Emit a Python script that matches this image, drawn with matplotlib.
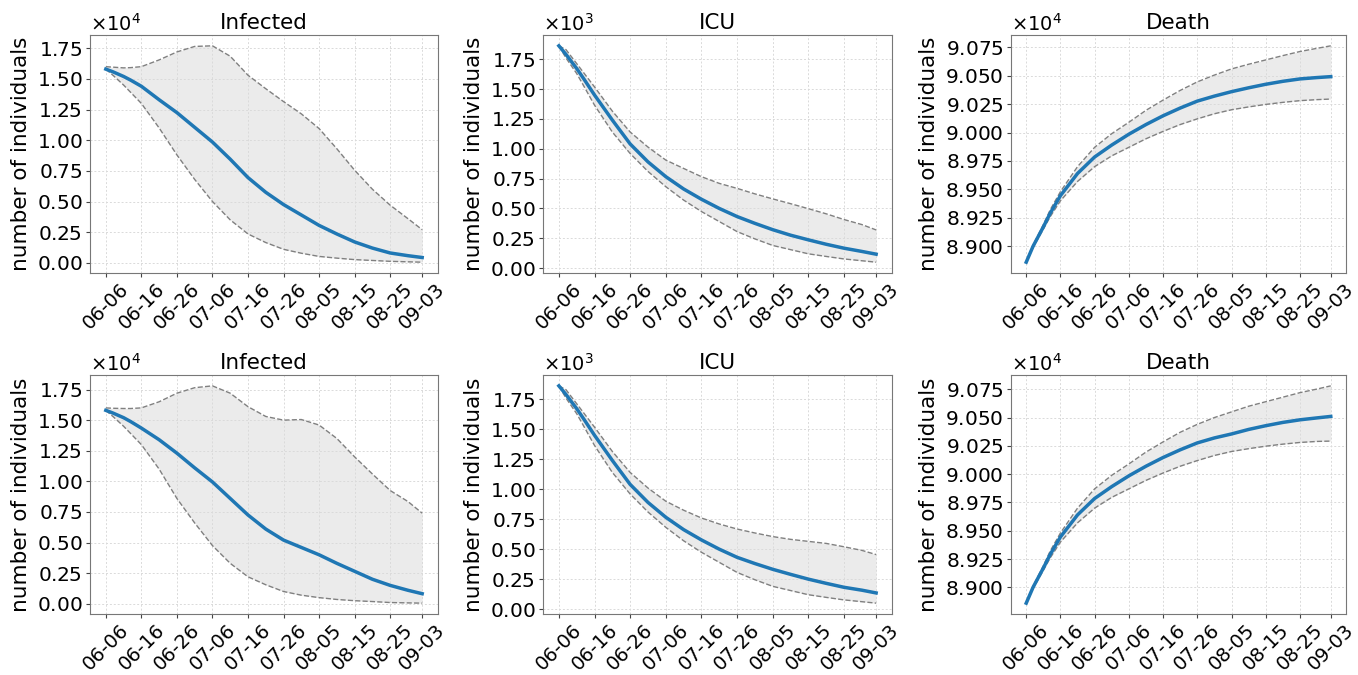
import numpy as np
import matplotlib
matplotlib.use("Agg")
import matplotlib.pyplot as plt
from matplotlib.ticker import MultipleLocator

days = [0, 2, 5, 7, 10, 15, 20, 25, 30, 35, 40, 45, 50, 55, 60, 65, 70, 75, 80, 85, 89]
tick_days = [0, 10, 20, 30, 40, 50, 60, 70, 80, 89]
tick_labels = ["06-06", "06-16", "06-26", "07-06", "07-16", "07-26",
               "08-05", "08-15", "08-25", "09-03"]
titles = ["Infected", "ICU", "Death"]
tick_steps = [2500, 250, 250]

# Row 1
inf1_mean = [15800, 15580, 15200, 14900, 14400, 13300, 12250, 11050, 9850, 8450, 6950, 5750, 4750, 3900, 3050, 2350, 1700, 1200, 800, 580, 430]
inf1_up = [16000, 15960, 15900, 15920, 16000, 16550, 17200, 17650, 17700, 16850, 15300, 14200, 13150, 12150, 10950, 9300, 7550, 6000, 4700, 3600, 2700]
inf1_lo = [15800, 15300, 14500, 13900, 13000, 11000, 8800, 6800, 5000, 3500, 2350, 1650, 1100, 780, 520, 380, 260, 190, 120, 80, 50]
icu1_mean = [1862, 1790, 1672, 1585, 1450, 1240, 1040, 890, 766, 663, 577, 500, 432, 375, 322, 276, 237, 200, 167, 140, 117]
icu1_up = [1862, 1830, 1713, 1635, 1518, 1315, 1140, 1014, 905, 835, 766, 710, 668, 622, 580, 540, 498, 455, 407, 365, 320]
icu1_lo = [1862, 1760, 1630, 1525, 1365, 1140, 960, 810, 682, 570, 474, 390, 306, 245, 190, 155, 120, 98, 77, 62, 50]
dth1_mean = [88860, 89000, 89170, 89290, 89445, 89640, 89785, 89890, 89985, 90070, 90147, 90215, 90276, 90320, 90359, 90393, 90424, 90450, 90471, 90483, 90491]
dth1_up = [88860, 89010, 89190, 89320, 89480, 89700, 89870, 89990, 90090, 90195, 90285, 90370, 90445, 90505, 90559, 90600, 90638, 90676, 90712, 90740, 90762]
dth1_lo = [88860, 88990, 89150, 89260, 89400, 89570, 89700, 89795, 89870, 89945, 90010, 90070, 90120, 90165, 90200, 90225, 90247, 90265, 90280, 90289, 90294]

# Row 2
inf2_mean = [15800, 15580, 15200, 14880, 14350, 13400, 12300, 11100, 9950, 8600, 7250, 6100, 5200, 4600, 4000, 3300, 2650, 2000, 1500, 1100, 820]
inf2_up = [16000, 15970, 15950, 15950, 16000, 16500, 17200, 17650, 17800, 17200, 16100, 15300, 15000, 15050, 14600, 13500, 12000, 10600, 9250, 8350, 7400]
inf2_lo = [15800, 15300, 14500, 13900, 13000, 11000, 8600, 6600, 4750, 3300, 2200, 1550, 1000, 700, 500, 350, 250, 180, 100, 70, 50]
icu2_mean = [1862, 1790, 1672, 1585, 1450, 1240, 1040, 890, 766, 663, 577, 500, 432, 380, 332, 290, 250, 215, 182, 158, 135]
icu2_up = [1862, 1830, 1713, 1635, 1518, 1315, 1140, 1010, 900, 825, 760, 710, 668, 635, 605, 582, 565, 548, 520, 490, 455]
icu2_lo = [1862, 1760, 1630, 1525, 1365, 1140, 960, 810, 682, 570, 474, 390, 306, 245, 190, 155, 120, 98, 77, 62, 50]
dth2_mean = [88860, 89000, 89170, 89290, 89445, 89640, 89785, 89890, 89985, 90070, 90147, 90215, 90276, 90320, 90355, 90395, 90428, 90457, 90480, 90497, 90510]
dth2_up = [88860, 89010, 89190, 89320, 89480, 89700, 89870, 89990, 90090, 90195, 90285, 90370, 90440, 90500, 90550, 90600, 90640, 90680, 90720, 90752, 90780]
dth2_lo = [88860, 88990, 89150, 89260, 89400, 89570, 89700, 89795, 89870, 89945, 90010, 90070, 90120, 90165, 90200, 90225, 90247, 90265, 90280, 90289, 90292]

rows = [
    [(inf1_mean, inf1_lo, inf1_up), (icu1_mean, icu1_lo, icu1_up), (dth1_mean, dth1_lo, dth1_up)],
    [(inf2_mean, inf2_lo, inf2_up), (icu2_mean, icu2_lo, icu2_up), (dth2_mean, dth2_lo, dth2_up)],
]

W, H = 1358, 675
plt.rcParams['font.family'] = ['DejaVu Sans']
fig = plt.figure(figsize=(W / 100, H / 100), dpi=100)

xs_px = [(90, 348), (543, 349), (1011, 335)]
ys_px = [(35, 273), (375, 614)]

FS = 14
for r, row in enumerate(rows):
    top, bot = ys_px[r]
    for c, (m, lo, up) in enumerate(row):
        x0, w = xs_px[c]
        ax = fig.add_axes([x0 / W, (H - bot) / H, w / W, (bot - top) / H])
        ax.fill_between(days, lo, up, color='#ebebeb', zorder=1, linewidth=0)
        ax.plot(days, up, color='#808080', ls='--', lw=1.0, zorder=2)
        ax.plot(days, lo, color='#808080', ls='--', lw=1.0, zorder=2)
        ax.plot(days, m, color='#1f77b4', lw=2.5, zorder=3)
        ax.grid(True, color='#dadada', ls=(0, (2, 2)), lw=0.7, zorder=1.5)
        ax.set_xticks(tick_days)
        ax.set_xticklabels(tick_labels, rotation=45, fontsize=FS)
        ax.tick_params(axis='x', length=3, pad=1.5)
        ax.tick_params(axis='y', length=3, pad=2.5)
        ax.yaxis.set_major_locator(MultipleLocator(tick_steps[c]))
        ax.tick_params(axis='y', labelsize=FS + 0.5)
        ax.ticklabel_format(axis='y', style='sci', scilimits=(0, 0),
                            useMathText=True, useOffset=False)
        ax.yaxis.get_offset_text().set_fontsize(FS)
        ax.set_title(titles[c], fontsize=FS + 1.5, pad=4)
        ax.set_ylabel("number of individuals", fontsize=FS + 1.5, labelpad=4)
        for s in ax.spines.values():
            s.set_color('#777777')
        ax.tick_params(colors='#444444', labelcolor='black')

fig.savefig("out.png", dpi=100)
